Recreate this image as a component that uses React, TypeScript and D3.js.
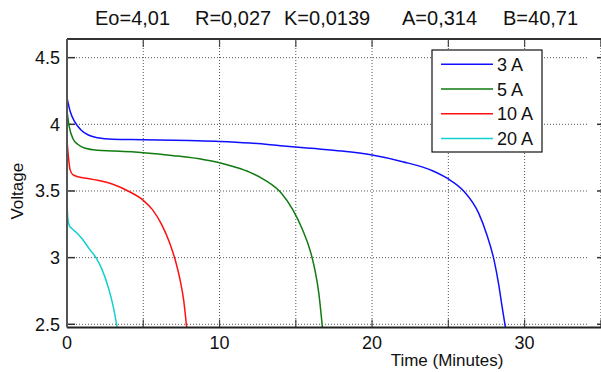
import React from "react";
import * as d3 from "d3";

const titleParts = ["Eo=4,01", "R=0,027", "K=0,0139", "A=0,314", "B=40,71"];
const titleX = [95, 195, 284, 402, 503];

const seriesNames = ["3 A", "5 A", "10 A", "20 A"];
const seriesColors = ["#1010ff", "#117a11", "#ff1010", "#10d0d0"];

const blueT = [0, 0.2, 0.5, 0.9, 1.4, 2, 3, 5, 8, 10, 12, 14, 16, 18, 20, 22, 24, 25, 26, 27, 27.5, 28, 28.3, 28.5, 28.75];
const blueV = [4.2, 4.1, 4.02, 3.96, 3.92, 3.9, 3.888, 3.885, 3.878, 3.872, 3.86, 3.84, 3.82, 3.8, 3.77, 3.72, 3.65, 3.59, 3.5, 3.33, 3.18, 2.98, 2.8, 2.65, 2.47];

const greenT = [0, 0.15, 0.4, 0.7, 1.2, 2, 3, 5, 7, 9, 10, 11, 12, 13, 14, 14.8, 15.4, 16, 16.3, 16.5, 16.75];
const greenV = [4.1, 3.98, 3.89, 3.85, 3.82, 3.805, 3.8, 3.787, 3.765, 3.735, 3.712, 3.68, 3.64, 3.58, 3.49, 3.36, 3.22, 3.03, 2.88, 2.74, 2.47];

const redT = [0, 0.1, 0.2, 0.4, 0.8, 1.3, 2, 3, 4, 5, 5.6, 6.2, 6.7, 7.1, 7.4, 7.65, 7.85];
const redV = [3.88, 3.75, 3.66, 3.62, 3.605, 3.595, 3.58, 3.55, 3.5, 3.43, 3.36, 3.25, 3.12, 2.98, 2.84, 2.68, 2.47];

const cyanT = [0, 0.05, 0.15, 0.3, 0.6, 1.0, 1.5, 1.9, 2.3, 2.7, 3.0, 3.3];
const cyanV = [3.42, 3.3, 3.24, 3.22, 3.19, 3.14, 3.06, 3.0, 2.91, 2.78, 2.65, 2.47];

const seriesT = [blueT, greenT, redT, cyanT];
const seriesV = [blueV, greenV, redV, cyanV];

const xDomain = [0, 35.27];
const yDomain = [2.476, 4.64];
const xGridTicks = [5, 10, 15, 20, 25, 30, 35];
const xLabelTicks = [0, 10, 20, 30];
const yTicks = [2.5, 3, 3.5, 4, 4.5];

const W = 601;
const H = 372;
const L = 67;
const R = 605;
const T = 39;
const B = 327.5;

export default function App() {
  const x = d3.scaleLinear().domain(xDomain).range([L, R]);
  const y = d3.scaleLinear().domain(yDomain).range([B, T]);
  const line = d3
    .line<[number, number]>()
    .x((d) => x(d[0]))
    .y((d) => y(d[1]))
    .curve(d3.curveMonotoneX);
  const font = "Arial, 'Liberation Sans', sans-serif";
  const tickLen = 8;
  const legendX = 432;
  const legendY = 50;
  const legendW = 110;
  const legendH = 102;
  const rowH = 24.7;

  return (
    <svg width={W} height={H} style={{ position: "absolute", left: 0, top: 0, background: "#fff" }} fontFamily={font}>
      <defs>
        <clipPath id="plot">
          <rect x={L} y={T} width={R - L} height={B - T} />
        </clipPath>
      </defs>
      {titleParts.map((t, i) => (
        <text key={t} x={titleX[i]} y={25} fontSize={20} fill="#111">
          {t}
        </text>
      ))}
      {/* grid */}
      {xGridTicks.map((v) => (
        <line key={"gx" + v} x1={x(v)} x2={x(v)} y1={T} y2={B} stroke="#555" strokeWidth={1} strokeDasharray="1,2" />
      ))}
      {yTicks.map((v) => (
        <line key={"gy" + v} x1={L} x2={R - 16} y1={y(v)} y2={y(v)} stroke="#555" strokeWidth={1} strokeDasharray="1,2" />
      ))}
      {/* ticks */}
      {xGridTicks.map((v) => (
        <g key={"tx" + v}>
          <line x1={x(v)} x2={x(v)} y1={B} y2={B - tickLen} stroke="#444" strokeWidth={1.2} />
          <line x1={x(v)} x2={x(v)} y1={T} y2={T + tickLen} stroke="#444" strokeWidth={1.2} />
        </g>
      ))}
      {yTicks.map((v) => (
        <g key={"ty" + v}>
          <line x1={L} x2={L + tickLen} y1={y(v)} y2={y(v)} stroke="#333" strokeWidth={1.5} />
          <line x1={R - tickLen} x2={R} y1={y(v)} y2={y(v)} stroke="#333" strokeWidth={1.5} />
        </g>
      ))}
      {/* series */}
      <g clipPath="url(#plot)">
        {seriesT.map((ts, i) => (
          <path
            key={seriesNames[i]}
            d={line(ts.map((t, j) => [t, seriesV[i][j]] as [number, number])) || ""}
            fill="none"
            stroke={seriesColors[i]}
            strokeWidth={1.5}
          />
        ))}
      </g>
      {/* axes box */}
      <line x1={L} x2={R} y1={T} y2={T} stroke="#333" strokeWidth={2} />
      <line x1={L} x2={R} y1={B} y2={B} stroke="#222" strokeWidth={2} />
      <line x1={L} x2={L} y1={T} y2={B} stroke="#555" strokeWidth={2} />
      {/* tick labels */}
      {xLabelTicks.map((v) => (
        <text key={"lx" + v} x={x(v)} y={349} fontSize={18} textAnchor="middle" fill="#111">
          {v}
        </text>
      ))}
      {yTicks.map((v) => (
        <text key={"ly" + v} x={60} y={y(v) + 6.5} fontSize={18} textAnchor="end" fill="#111">
          {String(v)}
        </text>
      ))}
      <text x={447} y={366} fontSize={17} textAnchor="middle" fill="#111">
        Time (Minutes)
      </text>
      <text transform={`translate(23,${(T + B) / 2 + 8}) rotate(-90)`} fontSize={17} textAnchor="middle" fill="#111">
        Voltage
      </text>
      {/* legend */}
      <rect x={legendX} y={legendY} width={legendW} height={legendH} fill="#fff" stroke="#111" strokeWidth={1.2} />
      {seriesNames.map((n, i) => (
        <g key={"lg" + n}>
          <line
            x1={legendX + 9}
            x2={legendX + 61}
            y1={legendY + 14.3 + i * rowH}
            y2={legendY + 14.3 + i * rowH}
            stroke={seriesColors[i]}
            strokeWidth={1.5}
          />
          <text x={legendX + 65} y={legendY + 14.3 + i * rowH + 6.5} fontSize={18} fill="#111">
            {n}
          </text>
        </g>
      ))}
    </svg>
  );
}
